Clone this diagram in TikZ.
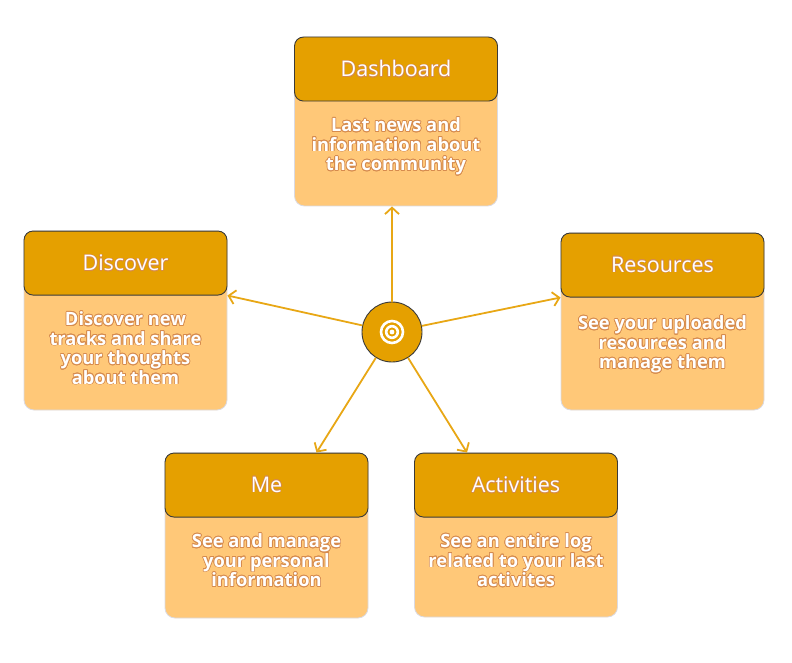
\documentclass[tikz,border=0pt]{standalone}
\usepackage{fontspec}
\setmainfont{Open Sans}
\usepackage{contour}
\usetikzlibrary{positioning,arrows.meta}

\definecolor{headfill}{HTML}{E5A000}
\definecolor{headline}{HTML}{3A3A3A}
\definecolor{cardfill}{HTML}{FFC878}
\definecolor{cardline}{HTML}{DADAE2}
\definecolor{linkcol}{HTML}{E8A715}
\definecolor{outl}{HTML}{D68B4E}

\newcommand\tl[1]{\contourlength{0.5pt}\contour{outl}{#1}}
\newcommand\bl[1]{\contourlength{0.7pt}\contour{outl}{#1}}

\begin{document}
\begin{tikzpicture}[x=1pt,y=-1pt,
  card/.style={rectangle,rounded corners=10pt,draw=cardline,fill=cardfill,minimum width=203pt,line width=0.8pt},
  head/.style={rectangle,rounded corners=9pt,draw=headline,fill=headfill,minimum width=203pt,minimum height=64pt,line width=0.9pt,text=white,font=\fontsize{21.5}{25}\selectfont},
  desc/.style={align=center,inner sep=0pt,text=white,font=\bfseries\fontsize{18.3}{19.5}\selectfont},
  link/.style={draw=linkcol,line width=1.8pt,-{Straight Barb[length=6.5pt,width=14pt]}}
]

\useasboundingbox (0,0) rectangle (792,663);

% cards
\node[card,minimum height=169pt] (dashcard) at (396,121.5) {};
\node[head,anchor=north] (dash) at (dashcard.north) {\tl{Dashboard}};
\node[desc,below=16pt of dash] (dashtext) {\bl{Last news and}\\\bl{information about}\\\bl{the community}};

\node[card,minimum height=179pt] (disccard) at (125.5,320.5) {};
\node[head,anchor=north] (disc) at (disccard.north) {\tl{Discover}};
\node[desc,below=16pt of disc] (disctext) {\bl{Discover new}\\\bl{tracks and share}\\\bl{your thoughts}\\\bl{about them}};

\node[card,minimum height=177pt] (rescard) at (662.5,321.5) {};
\node[head,anchor=north] (res) at (rescard.north) {\tl{Resources}};
\node[desc,below=18pt of res] (restext) {\bl{See your uploaded}\\\bl{resources and}\\\bl{manage them}};

\node[card,minimum height=165pt] (mecard) at (266.5,535.5) {};
\node[head,anchor=north] (me) at (mecard.north) {\tl{Me}};
\node[desc,below=16pt of me] (metext) {\bl{See and manage}\\\bl{your personal}\\\bl{information}};

\node[card,minimum height=164pt] (actcard) at (516,535) {};
\node[head,anchor=north] (act) at (actcard.north) {\tl{Activities}};
\node[desc,below=16pt of act] (acttext) {\bl{See an entire log}\\\bl{related to your last}\\\bl{activites}};

% hub
\node[circle,draw=headline,fill=headfill,minimum size=60pt,line width=0.9pt] (hub) at (392,332) {};
\draw[white,line width=2.6pt] (hub.center) circle (11pt) (hub.center) circle (5.8pt);
\fill[white] (hub.center) circle (2.4pt);

% links
\draw[link] (hub) -- (hub |- dashcard.south);
\draw[link] (hub) -- (disc.south east);
\draw[link] (hub) -- (res.south west);
\draw[link] (hub) -- ([xshift=50pt]me.north);
\draw[link] (hub) -- ([xshift=-49pt]act.north);

\end{tikzpicture}
\end{document}
